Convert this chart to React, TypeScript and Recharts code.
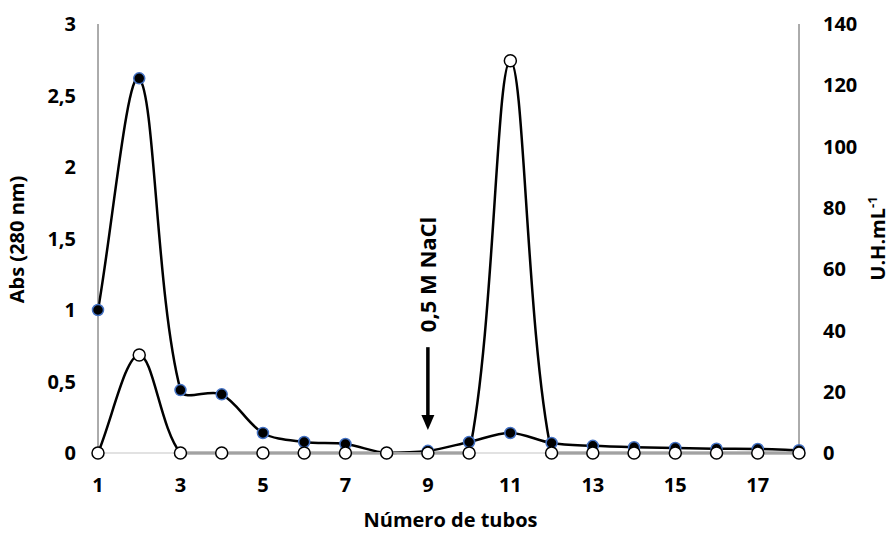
import React from 'react';
import { LineChart, Line, XAxis, YAxis, ReferenceLine, Label } from 'recharts';

const tubes = [1, 2, 3, 4, 5, 6, 7, 8, 9, 10, 11, 12, 13, 14, 15, 16, 17, 18];
const absValues = [1.0, 2.62, 0.44, 0.41, 0.14, 0.077, 0.063, 0.0, 0.015, 0.077, 0.14, 0.07, 0.05, 0.04, 0.035, 0.03, 0.028, 0.02];
const uhValues = [0, 32, 0, 0, 0, 0, 0, 0, 0, 0, 128, 0, 0, 0, 0, 0, 0, 0];
const xTicks = [1, 3, 5, 7, 9, 11, 13, 15, 17];
const absTicks = [0, 0.5, 1, 1.5, 2, 2.5, 3];
const uhTicks = [0, 20, 40, 60, 80, 100, 120, 140];
const arrowTube = 9;
const arrowTop = 0.74;
const arrowTip = 0.16;
const annotationText = '0,5 M NaCl';

const data = tubes.map((t, i) => ({ tube: t, abs: absValues[i], uh: uhValues[i] }));

const FONT = "'Open Sans', 'DejaVu Sans', sans-serif";

// Excel-like smoothing: Bezier with distance-weighted tangents, never dipping below the lowest point
function smoothCurve(context: any) {
  let pts: number[][] = [];
  const dist = (a: number[], b: number[]) => Math.hypot(b[0] - a[0], b[1] - a[1]);
  return {
    areaStart() {},
    areaEnd() {},
    lineStart() {
      pts = [];
    },
    point(x: number, y: number) {
      pts.push([+x, +y]);
    },
    lineEnd() {
      const n = pts.length;
      if (!n) return;
      let maxY = -Infinity;
      for (const p of pts) maxY = Math.max(maxY, p[1]);
      context.moveTo(pts[0][0], pts[0][1]);
      for (let i = 0; i < n - 1; i++) {
        const p0 = i > 0 ? pts[i - 1] : pts[i];
        const p1 = pts[i];
        const p2 = pts[i + 1];
        const p3 = i + 2 < n ? pts[i + 2] : pts[i + 1];
        const d01 = dist(p0, p1);
        const d12 = dist(p1, p2);
        const d23 = dist(p2, p3);
        const f1 = d01 + d12 > 0 ? d12 / (d01 + d12) / 3 : 0;
        const f2 = d12 + d23 > 0 ? d12 / (d12 + d23) / 3 : 0;
        const c1x = p1[0] + (p2[0] - p0[0]) * f1;
        const c1y = Math.min(maxY, p1[1] + (p2[1] - p0[1]) * f1);
        const c2x = p2[0] - (p3[0] - p1[0]) * f2;
        const c2y = Math.min(maxY, p2[1] - (p3[1] - p1[1]) * f2);
        context.bezierCurveTo(c1x, c1y, c2x, c2y, p2[0], p2[1]);
      }
    },
  };
}

const fmt = (v: number) => String(v).replace('.', ',');

const tickStyle = { fill: '#000', fontSize: 20, fontWeight: 700, fontFamily: FONT };

const LeftLabel = (props: any) => {
  const vb = props.viewBox || {};
  const x = vb.x + 17;
  const y = vb.y + vb.height / 2 + 1;
  return (
    <text x={x} y={y} transform={`rotate(-90 ${x} ${y})`} textAnchor="middle" dy="0.36em"
      fill="#000" fontSize={20} fontWeight={700} fontFamily={FONT}>
      Abs (280 nm)
    </text>
  );
};

const RightLabel = (props: any) => {
  const vb = props.viewBox || {};
  const x = vb.x + 79;
  const y = vb.y + vb.height / 2;
  return (
    <text x={x} y={y} transform={`rotate(-90 ${x} ${y})`} textAnchor="middle" dy="0.36em"
      fill="#000" fontSize={20} fontWeight={700} fontFamily={FONT}>
      U.H.mL<tspan fontSize={13} dy="-8">-1</tspan>
    </text>
  );
};

const BottomLabel = (props: any) => {
  const vb = props.viewBox || {};
  const x = vb.x + vb.width / 2 + 2;
  const y = vb.y + 74;
  return (
    <text x={x} y={y} textAnchor="middle" fill="#000" fontSize={20} fontWeight={700} fontFamily={FONT}>
      Número de tubos
    </text>
  );
};

const ArrowShape = (p: any) => {
  const x = p.x1;
  const top = Math.min(p.y1, p.y2);
  const tip = Math.max(p.y1, p.y2);
  const head = 15;
  const ty = top - 15;
  return (
    <g>
      <line x1={x} y1={top} x2={x} y2={tip - head + 1} stroke="#000" strokeWidth={3.5} />
      <polygon points={`${x - 6.5},${tip - head} ${x + 6.5},${tip - head} ${x},${tip}`} fill="#000" />
      <text x={x} y={ty} transform={`rotate(-90 ${x} ${ty})`} dy="0.36em" textAnchor="start"
        fill="#000" fontSize={22} fontWeight={700} fontFamily={FONT}>
        {annotationText}
      </text>
    </g>
  );
};

export default function App() {
  return (
    <div style={{ position: 'absolute', left: 0, top: 0, background: '#fff' }}>
      <LineChart width={894} height={533} data={data} margin={{ top: 24, right: 0, bottom: 0, left: 0 }}>
        <XAxis
          dataKey="tube"
          type="number"
          domain={[1, 18]}
          ticks={xTicks}
          interval={0}
          height={80}
          axisLine={{ stroke: '#d9d9d9', strokeWidth: 1.5 }}
          tickLine={false}
          tickSize={6}
          tickMargin={19}
          tick={tickStyle}
        >
          <Label content={BottomLabel} />
        </XAxis>
        <YAxis
          yAxisId="left"
          orientation="left"
          domain={[0, 3]}
          ticks={absTicks}
          interval={0}
          width={98}
          axisLine={{ stroke: '#595959', strokeWidth: 1 }}
          tickLine={false}
          tickSize={6}
          tickMargin={16}
          tick={tickStyle}
          tickFormatter={fmt}
        >
          <Label content={LeftLabel} />
        </YAxis>
        <YAxis
          yAxisId="right"
          orientation="right"
          domain={[0, 140]}
          ticks={uhTicks}
          interval={0}
          width={95}
          axisLine={{ stroke: '#595959', strokeWidth: 1 }}
          tickLine={false}
          tickSize={6}
          tickMargin={18}
          tick={tickStyle}
        >
          <Label content={RightLabel} />
        </YAxis>
        <ReferenceLine
          yAxisId="left"
          segment={[{ x: arrowTube, y: arrowTop }, { x: arrowTube, y: arrowTip }]}
          shape={ArrowShape}
        />
        <Line
          yAxisId="left"
          dataKey="abs"
          type={smoothCurve as any}
          stroke="#000"
          strokeWidth={2.5}
          dot={{ r: 5.5, fill: '#000', stroke: '#4472c4', strokeWidth: 1.5 }}
          isAnimationActive={false}
        />
        <Line
          yAxisId="right"
          dataKey="uh"
          type={smoothCurve as any}
          stroke="#000"
          strokeWidth={2.5}
          dot={{ r: 6, fill: '#fff', stroke: '#000', strokeWidth: 1.5 }}
          isAnimationActive={false}
        />
      </LineChart>
    </div>
  );
}
